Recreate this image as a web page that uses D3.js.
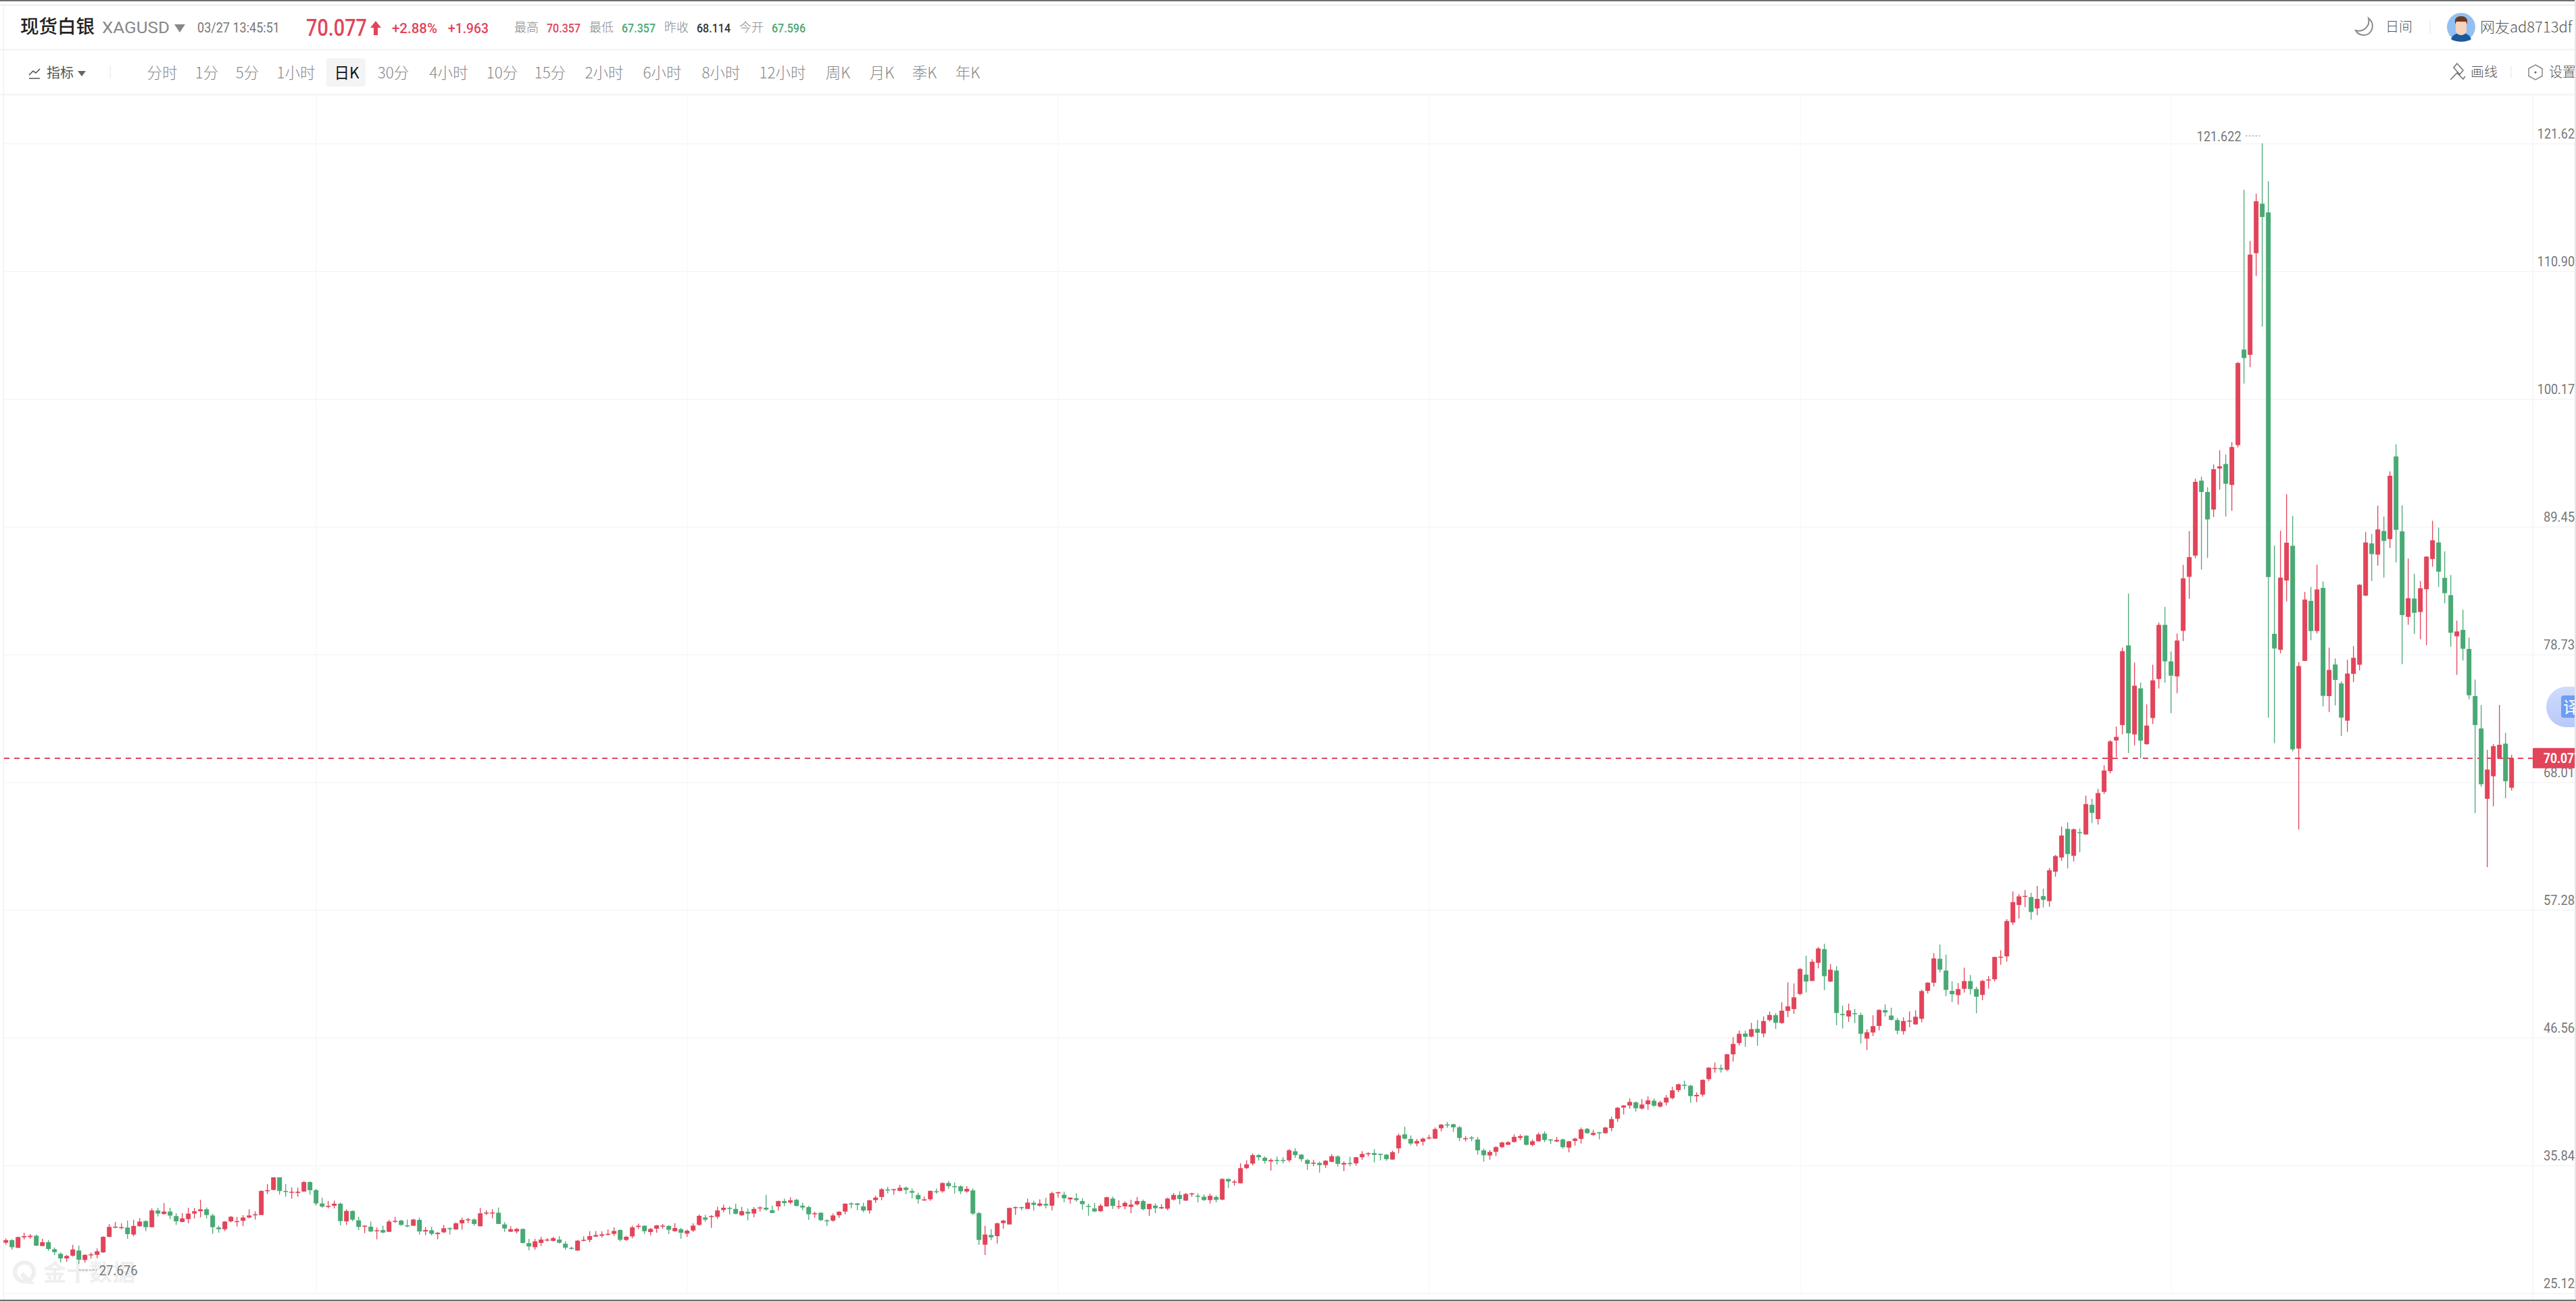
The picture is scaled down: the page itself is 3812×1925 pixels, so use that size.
<!DOCTYPE html>
<html>
<head>
<meta charset="utf-8" />
<style>
	html, body { margin: 0; padding: 0; background: #fff; overflow: hidden; }
	svg { display: block; }
</style>
</head>
<body>
<div id="chart"></div>
<script src="https://cdnjs.cloudflare.com/ajax/libs/d3/7.8.5/d3.min.js"></script>
<script type="text/javascript">

	var opens = [
		29.46,29.67,29.03,29.91,29.93,30.04,29.18,29.50,28.91,28.53,
		28.14,28.37,28.80,28.01,28.42,28.44,28.65,29.95,30.73,30.74,
		30.73,30.14,30.84,31.27,30.76,32.16,31.86,32.07,31.69,31.20,
		31.44,31.90,32.10,32.26,31.74,30.73,30.59,31.25,31.25,31.29,
		31.57,31.82,31.78,33.82,33.88,34.94,33.79,33.71,33.63,33.75,
		34.54,33.86,32.75,32.46,32.56,32.73,31.25,32.12,31.33,30.84,
		30.80,30.42,30.52,30.37,31.25,31.31,30.91,30.88,31.37,30.40,
		30.50,30.18,30.33,30.67,30.57,31.08,31.33,31.40,30.84,31.90,
		31.97,31.97,30.99,30.38,30.40,30.61,29.42,29.08,29.44,29.70,
		29.61,29.72,29.37,29.03,28.80,29.63,29.69,29.97,30.04,30.16,
		30.20,30.52,29.69,29.99,30.78,30.88,30.35,30.63,30.88,30.86,
		30.42,30.59,30.22,30.48,30.95,31.57,31.63,31.63,32.20,32.37,
		32.29,31.76,32.05,31.90,32.33,32.39,32.18,32.50,32.95,32.82,
		33.05,32.56,32.44,31.84,31.97,31.33,31.31,31.76,32.07,32.75,
		32.75,32.50,32.16,33.03,33.29,33.92,33.90,33.80,34.07,33.79,
		33.46,33.07,33.10,33.77,33.77,34.46,34.20,34.18,33.75,33.84,
		31.93,29.29,30.10,30.01,31.10,30.99,32.39,32.44,32.29,32.80,
		32.56,32.71,32.56,33.65,33.48,33.09,33.18,32.95,32.54,32.33,
		32.10,32.50,33.16,32.46,32.50,32.46,32.67,32.95,32.27,32.57,
		32.33,32.31,33.07,33.46,32.99,33.56,33.39,33.31,33.03,33.29,
		33.07,34.80,34.54,34.44,35.71,36.09,36.80,36.58,36.27,36.39,
		36.39,36.37,37.12,36.84,36.39,36.12,36.14,35.97,36.24,36.69,
		36.01,36.14,36.11,36.62,36.92,36.97,36.90,36.84,36.43,37.37,
		38.54,38.16,37.77,37.92,38.20,38.18,39.05,39.37,39.39,39.13,
		38.18,38.28,38.11,37.20,36.77,37.07,37.47,37.67,37.90,38.24,
		38.43,37.65,37.96,38.60,38.11,37.94,38.11,37.43,37.99,38.16,
		39.00,38.49,38.71,38.64,39.07,39.85,40.79,40.96,41.22,40.70,
		41.06,41.36,40.87,41.21,41.58,42.25,42.70,42.62,41.73,41.87,
		43.17,44.10,44.10,43.96,45.25,46.19,46.99,46.74,47.38,46.99,
		48.12,48.53,47.87,48.89,49.04,50.31,51.93,51.40,52.92,54.07,
		51.35,52.27,48.63,48.42,48.70,48.55,46.57,47.08,47.63,48.95,
		48.50,48.12,47.19,48.06,47.76,48.23,50.57,51.25,53.26,52.27,
		50.57,50.21,50.74,51.39,50.72,50.23,51.44,51.54,53.37,53.46,
		56.30,57.77,58.49,58.43,57.48,58.51,58.09,60.56,61.75,64.15,
		61.89,63.87,63.68,66.17,64.97,67.25,68.99,71.56,72.85,79.53,
		72.07,75.93,71.25,73.44,76.71,81.25,78.19,76.93,80.75,85.28,
		87.06,93.34,92.39,90.92,94.36,94.74,92.98,96.32,104.33,103.89,
		112.41,116.56,115.83,80.50,79.16,84.97,87.88,70.88,78.23,83.26,
		80.73,84.35,75.28,77.93,76.34,73.22,77.15,77.91,83.70,88.08,
		87.14,89.12,88.44,95.37,89.09,81.92,83.46,82.33,84.24,86.77,
		88.16,85.19,83.74,80.29,80.83,79.23,75.28,72.57,66.67,68.56,
		70.08,71.29,67.596
	];

	var highs = [
		29.82,29.76,29.97,30.29,30.18,30.14,29.78,29.67,29.06,28.65,
		28.44,29.27,29.21,28.48,28.63,28.97,29.99,31.01,31.20,31.08,
		31.31,31.39,31.52,31.33,32.33,32.39,32.78,32.39,31.93,31.93,
		32.39,32.37,33.05,32.42,31.88,30.88,31.27,31.69,31.63,31.76,
		32.26,32.09,33.84,34.37,34.94,34.94,34.37,34.09,34.07,34.63,
		34.60,33.97,33.22,32.95,32.99,32.82,32.26,32.16,31.63,30.93,
		31.23,30.73,30.89,31.37,31.63,31.39,31.40,31.46,31.56,30.78,
		30.80,30.37,30.95,30.76,31.16,31.56,31.54,31.50,32.37,32.18,
		32.27,32.41,31.18,30.84,30.71,30.65,29.78,29.78,29.95,29.86,
		29.95,30.01,29.59,29.12,29.67,29.99,30.42,30.44,30.42,30.56,
		30.74,30.57,30.04,30.88,31.06,30.91,30.69,30.95,31.03,30.93,
		31.10,30.69,30.56,31.08,31.82,31.80,31.76,32.48,32.65,32.50,
		32.73,32.44,32.33,32.44,32.50,33.46,32.56,32.99,33.16,33.27,
		33.14,32.82,32.54,32.07,32.01,31.44,31.91,32.10,32.76,32.84,
		32.78,32.82,33.05,33.39,34.03,34.14,33.97,34.31,34.16,34.01,
		33.65,33.33,33.84,34.01,34.52,34.63,34.52,34.26,34.20,34.01,
		32.03,30.88,30.59,31.14,31.39,32.41,32.50,32.48,33.16,32.99,
		33.10,33.22,33.73,33.73,33.73,33.27,33.60,33.18,32.73,32.78,
		32.71,33.31,33.33,33.01,32.93,33.05,33.29,33.07,32.73,32.76,
		32.69,33.22,33.63,33.78,33.63,33.65,33.59,33.50,33.56,33.41,
		34.86,34.84,34.73,36.12,36.39,36.94,36.90,36.69,36.52,36.67,
		36.62,37.31,37.37,36.88,36.48,36.41,36.26,36.39,36.88,36.80,
		36.28,36.67,36.63,37.13,37.03,37.30,36.94,36.88,37.18,38.60,
		39.18,38.45,38.16,38.26,38.49,39.11,39.41,39.58,39.43,39.26,
		38.39,38.39,38.32,37.35,37.24,37.54,37.92,37.99,38.54,38.54,
		38.45,38.11,38.69,38.79,38.16,38.33,38.20,37.98,38.26,39.11,
		39.07,38.92,38.75,39.17,40.03,40.83,41.00,41.55,41.30,41.49,
		41.73,41.55,41.36,41.83,42.53,42.79,43.04,42.68,42.06,43.15,
		44.17,44.55,44.38,45.29,46.70,47.23,47.23,47.89,48.12,48.42,
		48.82,48.70,49.61,51.29,51.18,52.48,53.52,53.22,54.24,54.52,
		52.82,52.65,49.33,49.50,49.06,48.74,47.35,48.52,49.02,49.44,
		49.16,48.29,48.35,48.85,48.93,50.67,51.31,53.73,54.45,53.61,
		51.37,51.23,52.52,51.91,50.91,51.48,51.82,53.44,53.98,56.58,
		58.90,58.68,59.02,58.79,59.37,59.13,60.87,61.96,64.34,64.70,
		64.19,64.17,66.93,66.66,67.50,69.48,71.59,72.73,79.34,83.87,
		78.08,76.41,74.59,77.91,81.44,82.76,79.01,80.53,86.28,89.12,
		93.50,93.67,92.78,94.70,95.88,95.53,96.56,103.30,117.71,113.44,
		117.40,121.622,118.44,87.90,89.14,92.20,90.37,78.14,84.02,84.43,
		86.30,84.89,79.34,78.43,76.52,78.32,79.47,84.67,89.03,88.88,
		91.24,90.33,94.11,96.38,91.28,86.80,85.52,84.93,87.01,89.98,
		89.40,87.42,85.43,81.61,82.52,80.18,76.67,74.52,70.77,71.27,
		74.54,72.20,70.357
	];

	var lows = [
		29.29,28.87,29.01,29.72,29.78,29.18,29.16,28.78,28.42,27.80,
		27.86,28.29,27.676,27.78,28.12,28.16,28.61,29.91,30.67,30.59,
		29.78,29.99,30.80,30.42,30.73,31.65,31.82,31.42,30.95,31.16,
		31.08,31.50,31.58,31.50,30.20,30.29,30.44,31.16,30.82,30.84,
		31.50,31.40,31.76,33.54,33.86,33.50,33.31,33.16,33.31,33.71,
		33.48,32.58,32.41,32.33,32.33,30.91,30.95,31.25,30.52,30.27,
		30.35,29.74,30.25,30.35,31.12,30.88,30.74,30.84,30.14,30.08,
		30.06,29.74,30.25,30.14,30.54,30.56,31.10,30.89,30.82,31.78,
		31.50,31.01,30.37,30.35,30.23,29.38,28.82,28.87,29.18,29.57,
		29.57,29.38,28.87,28.87,28.78,29.57,29.50,29.93,29.89,30.06,
		30.03,29.57,29.61,29.82,30.61,30.20,30.08,30.29,30.63,30.18,
		30.38,29.78,29.95,30.37,30.88,31.22,30.71,31.46,32.01,31.82,
		31.84,31.71,31.33,31.59,32.07,32.14,31.93,32.16,32.52,32.69,
		32.50,32.18,31.37,31.56,31.27,30.88,31.22,31.54,31.84,32.33,
		32.18,32.01,31.90,32.78,33.01,33.58,33.48,33.77,33.54,33.16,
		32.75,32.95,32.97,33.56,33.65,33.99,33.58,33.54,33.65,31.78,
		29.27,28.42,29.67,29.38,30.63,30.97,31.80,32.16,32.27,32.14,
		32.48,32.33,32.16,33.24,32.84,32.73,32.88,32.23,31.72,32.01,
		32.03,32.48,32.29,32.27,32.27,31.93,32.57,32.16,31.71,31.93,
		32.29,32.18,32.99,32.67,32.95,33.29,32.84,32.97,32.74,32.84,
		33.01,34.03,34.24,34.42,35.63,35.95,36.35,36.09,35.50,36.01,
		36.11,36.22,36.58,36.26,35.56,35.88,35.33,35.73,36.22,35.84,
		35.46,35.88,35.92,36.41,36.69,36.20,36.35,36.33,36.41,36.97,
		38.11,37.62,37.54,37.60,38.11,38.15,38.79,39.09,38.75,37.99,
		37.96,37.96,36.84,36.26,36.41,36.73,37.39,37.64,37.86,38.05,
		37.60,37.54,37.92,37.88,37.73,37.90,37.33,37.03,37.60,37.77,
		38.60,38.41,38.13,38.60,38.79,39.58,40.21,40.70,40.45,40.62,
		40.60,40.85,40.79,40.96,41.47,42.06,42.32,41.19,41.24,41.70,
		43.00,43.70,43.72,43.83,44.64,45.98,45.87,46.67,45.97,46.68,
		48.00,47.38,47.82,48.37,48.65,50.20,50.44,51.39,52.46,50.63,
		51.31,47.70,47.42,47.97,47.87,46.15,45.61,46.78,47.25,48.42,
		48.08,46.93,46.91,47.51,47.72,47.93,50.35,50.93,52.12,50.12,
		49.63,49.42,50.42,50.27,48.69,49.78,50.76,51.35,52.75,53.03,
		56.09,56.62,57.58,56.54,56.90,57.56,57.62,60.13,61.47,60.83,
		61.41,62.19,63.66,64.64,64.51,67.08,68.80,70.16,72.07,70.51,
		71.16,70.08,71.20,72.94,75.91,76.39,73.85,75.52,79.88,83.44,
		86.84,85.89,86.86,90.29,92.58,90.33,90.81,96.12,101.48,102.86,
		110.49,106.26,73.48,71.34,78.86,83.22,70.64,64.09,78.21,79.97,
		80.53,74.41,73.94,74.50,71.94,72.29,76.45,77.45,83.67,84.93,
		86.21,85.21,87.68,86.49,77.95,81.25,80.49,80.05,79.55,86.12,
		84.43,83.07,79.42,77.06,78.27,75.02,65.48,67.67,60.95,66.04,
		70.06,66.72,67.357
	];

	var closes = [
		29.67,29.08,29.93,30.01,30.04,29.21,29.50,28.93,28.67,28.14,
		28.35,28.89,28.03,28.44,28.48,28.74,29.95,30.78,30.80,30.76,
		30.18,30.86,31.23,30.76,32.16,31.90,32.07,31.73,31.25,31.50,
		31.90,32.09,32.26,31.78,30.76,30.59,31.23,31.63,31.27,31.57,
		31.74,31.84,33.80,33.86,34.94,33.79,33.77,33.73,33.73,34.54,
		33.86,32.75,32.48,32.54,32.73,31.27,32.12,31.39,30.78,30.88,
		30.40,30.50,30.31,31.23,31.29,30.95,30.88,31.40,30.40,30.52,
		30.20,30.29,30.67,30.65,31.08,31.37,31.42,31.03,31.92,31.99,
		31.99,31.03,30.65,30.59,30.61,29.44,29.14,29.57,29.72,29.72,
		29.84,29.46,29.04,28.97,29.63,29.70,30.01,30.10,30.16,30.20,
		30.44,29.70,29.95,30.74,30.88,30.42,30.61,30.91,30.89,30.54,
		30.69,30.29,30.46,30.89,31.71,31.39,31.69,32.16,32.39,32.31,
		31.88,32.10,31.90,32.29,32.41,32.24,31.95,32.95,32.78,33.01,
		32.54,32.41,31.84,31.93,31.35,31.25,31.74,32.05,32.73,32.71,
		32.63,32.16,33.01,33.24,33.94,33.88,33.94,34.07,33.88,33.65,
		33.10,33.09,33.80,33.69,34.46,34.20,34.16,33.77,33.97,31.90,
		29.69,30.14,29.91,31.08,31.31,32.37,32.44,32.41,32.82,32.63,
		32.75,32.58,33.61,33.69,33.18,33.24,33.03,32.69,32.50,32.08,
		32.56,33.27,32.54,32.52,32.80,32.65,32.95,32.27,32.71,32.35,
		32.44,33.16,33.46,33.12,33.54,33.59,33.35,33.03,33.39,33.05,
		34.80,34.59,34.58,35.71,36.03,36.80,36.62,36.31,36.39,36.35,
		36.35,37.20,36.80,36.46,36.07,36.16,35.97,36.33,36.71,36.07,
		36.14,36.11,36.62,36.90,36.96,36.82,36.84,36.46,37.05,38.45,
		38.18,37.77,37.98,38.18,38.28,38.98,39.35,39.34,39.13,38.24,
		38.22,38.24,37.20,36.79,37.07,37.47,37.86,37.88,38.33,38.39,
		37.67,37.96,38.54,38.07,38.07,38.07,37.47,37.96,38.18,38.96,
		38.64,38.66,38.67,39.11,39.81,40.77,40.96,41.26,40.73,41.04,
		41.39,40.94,41.22,41.62,42.23,42.74,42.62,41.75,41.85,43.11,
		44.13,44.11,43.98,45.25,46.12,46.97,46.72,47.36,47.06,48.04,
		48.55,47.89,48.91,49.27,50.03,52.41,51.35,53.01,54.12,51.80,
		52.35,48.72,48.53,48.93,48.67,46.97,47.10,47.61,48.97,48.76,
		48.14,47.23,48.04,48.08,48.40,50.55,51.25,53.29,52.35,50.65,
		50.29,50.72,51.39,50.72,50.08,51.40,51.52,53.41,53.43,56.43,
		58.01,58.49,58.53,57.18,58.28,58.20,60.68,61.87,63.59,62.04,
		64.11,63.81,66.23,65.49,67.15,69.04,71.48,71.86,79.05,72.16,
		76.15,71.55,72.81,76.60,81.25,78.19,76.99,79.94,85.15,86.93,
		93.24,92.39,90.09,94.30,94.54,93.08,96.16,103.20,103.62,112.29,
		116.76,115.44,85.26,79.27,85.21,88.14,70.82,77.80,83.37,80.73,
		84.22,75.30,77.47,76.63,73.48,77.17,78.49,84.61,88.16,87.19,
		89.25,88.29,93.75,89.22,82.07,83.48,82.26,84.32,86.97,88.34,
		85.71,83.91,80.59,80.70,79.25,75.35,72.85,67.89,69.12,71.08,
		71.20,68.15,70.077
	];

	var gridPrices = [121.605, 110.897, 100.189, 89.481, 78.773, 68.065, 57.357, 46.649, 35.941, 25.233];
	var tickLabels = ["121.62", "110.90", "100.17", "89.45", "78.73", "68.01", "57.28", "46.56", "35.84", "25.12"];
	var gridBars = [51, 112, 173, 234, 295, 356];
	var periods = ["分时", "1分", "5分", "1小时", "日K", "30分", "4小时", "10分", "15分", "2小时", "6小时", "8小时", "12小时", "周K", "月K", "季K", "年K"];
	var periodCenters = [240, 306, 366, 438, 513, 582, 664, 743, 814, 894, 980, 1067, 1158, 1240, 1305, 1368, 1432];
	var lastPrice = 70.077, maxPrice = 121.622, minPrice = 27.676, maxBar = 371, minBar = 12;

	var RED = "#e2445a", GREEN = "#49a974", GREY = "#888";
	var NUM = "Roboto, 'Liberation Sans', sans-serif";
	var CJK = "'Noto Sans CJK SC', sans-serif";

	var width = 3812, height = 1925;
	var svg = d3.select("#chart").append("svg").attr("width", width).attr("height", height);

	// bar index and price scales, calibrated on the bars of the picture
	var x = d3.scaleLinear().domain([0, 412]).range([8.7, 3716.7]);
	var y = d3.scaleLinear().domain([121.622, 25.12]).range([212, 1915.3]);

	function text(sel, px, py, str, size, color, opts) {
		opts = opts || {};
		var t = sel.append("text")
			.attr("x", px).attr("y", py)
			.attr("dy", "0.36em")
			.attr("font-family", opts.family || NUM)
			.attr("font-size", size)
			.attr("font-weight", opts.weight || 400)
			.attr("fill", color)
			.attr("text-anchor", opts.anchor || "start")
			.text(str);
		if (opts.w) t.attr("textLength", opts.w).attr("lengthAdjust", "spacingAndGlyphs");
		return t;
	}

	function hline(py, color, w) {
		svg.append("line").attr("x1", 0).attr("x2", width).attr("y1", py).attr("y2", py)
			.attr("stroke", color).attr("stroke-width", w);
	}

	// frame
	svg.append("rect").attr("width", width).attr("height", 2).attr("fill", "#6f6f6f");
	hline(7.5, "#e6e6e6", 1.5);
	hline(73.5, "#eeeeee", 1.5);
	hline(140, "#f6f6f6", 3);
	svg.append("line").attr("x1", 5.5).attr("x2", 5.5).attr("y1", 8).attr("y2", 1923).attr("stroke", "#ececec").attr("stroke-width", 1);

	// header row
	var head = svg.append("g");
	text(head, 30, 39, "现货白银", 27.5, "#222", { family: CJK, weight: 500 });
	text(head, 151, 40, "XAGUSD", 24, "#888", { w: 100 });
	head.append("path").attr("d", "M258 36h16l-8 12z").attr("fill", "#888");
	text(head, 292, 40, "03/27 13:45:51", 21, "#777", { w: 122 });
	text(head, 453, 40, "70.077", 35, RED, { w: 90, weight: 500 });
	head.append("path").attr("d", "M556 31l8 10h-5v11h-6V41h-5z").attr("fill", RED);
	text(head, 580, 41, "+2.88%", 21, RED, { w: 67, weight: 500 });
	text(head, 663, 41, "+1.963", 21, RED, { w: 60, weight: 500 });
	text(head, 761, 41, "最高", 18, "#888", { family: CJK, weight: 300 });
	text(head, 809, 41, "70.357", 19, RED, { w: 50, weight: 500 });
	text(head, 872, 41, "最低", 18, "#888", { family: CJK, weight: 300 });
	text(head, 920, 41, "67.357", 19, GREEN, { w: 50, weight: 500 });
	text(head, 983, 41, "昨收", 18, "#888", { family: CJK, weight: 300 });
	text(head, 1031, 41, "68.114", 19, "#333", { w: 50, weight: 500 });
	text(head, 1094, 41, "今开", 18, "#888", { family: CJK, weight: 300 });
	text(head, 1142, 41, "67.596", 19, GREEN, { w: 50, weight: 500 });

	// header right: theme and user
	head.append("path").attr("d", "M3505 27 C3516 36 3510 52 3498 52 C3492 52 3488 49 3486 45 C3496 48 3508 40 3505 27z")
		.attr("fill", "none").attr("stroke", "#8a8a8a").attr("stroke-width", 2);
	text(head, 3530, 40, "日间", 20, "#555", { family: CJK, weight: 300 });
	head.append("line").attr("x1", 3596).attr("x2", 3596).attr("y1", 30).attr("y2", 50).attr("stroke", "#eee").attr("stroke-width", 1.5);
	var av = head.append("g");
	av.append("circle").attr("cx", 3642).attr("cy", 40).attr("r", 21).attr("fill", "#93bff2");
	av.append("path").attr("d", "M3627 58c2-6 7-9 15-9s13 3 15 9c-8 5-22 5-30 0z").attr("fill", "#1d5a9c");
	av.append("path").attr("d", "M3634 32h16v12c0 5-4 8-8 8s-8-3-8-8z").attr("fill", "#f7d5bc");
	av.append("path").attr("d", "M3633 36v-7c2-4 5-5 9-5s7 1 9 5v7l-2-4h-14z").attr("fill", "#6b3a22");
	text(head, 3670, 40, "网友ad8713df", 22, "#555", { family: CJK, weight: 300 });

	// toolbar row
	var bar = svg.append("g");
	bar.append("path").attr("d", "M43 116h16M43 111l6-6 4 3 6-6").attr("fill", "none").attr("stroke", "#555").attr("stroke-width", 1.6);
	text(bar, 69, 108, "指标", 20, "#555", { family: CJK });
	bar.append("path").attr("d", "M115 105h12l-6 8z").attr("fill", "#666");
	bar.append("line").attr("x1", 163).attr("x2", 163).attr("y1", 97).attr("y2", 116).attr("stroke", "#eee").attr("stroke-width", 1.5);
	bar.append("rect").attr("x", 483).attr("y", 86).attr("width", 58).attr("height", 42).attr("rx", 4).attr("fill", "#f4f4f4");
	periods.forEach(function (p, i) {
		text(bar, periodCenters[i], 108, p, 22.5, p === "日K" ? "#111" : GREY, { family: CJK, anchor: "middle", weight: p === "日K" ? 400 : 300 });
	});
	bar.append("path").attr("d", "M3626 118l10-10 9 9 3-4M3636 94l9 10-5 6-9-10z").attr("fill", "none").attr("stroke", "#777").attr("stroke-width", 1.6);
	text(bar, 3656, 107, "画线", 20, "#555", { family: CJK, weight: 300 });
	bar.append("line").attr("x1", 3716).attr("x2", 3716).attr("y1", 98).attr("y2", 116).attr("stroke", "#eee").attr("stroke-width", 1.5);
	bar.append("path").attr("d", "M3752 96l10 5.500v11l-10 5.500-10-5.500v-11z").attr("fill", "none").attr("stroke", "#888").attr("stroke-width", 1.5);
	bar.append("circle").attr("cx", 3752).attr("cy", 107).attr("r", 1.6).attr("fill", "#666");
	text(bar, 3772, 107, "设置", 20, "#555", { family: CJK, weight: 300 });

	// watermark
	var wm = svg.append("g");
	wm.append("circle").attr("cx", 36).attr("cy", 1882).attr("r", 14).attr("fill", "none").attr("stroke", "#efefef").attr("stroke-width", 6);
	wm.append("path").attr("d", "M34 1882l18 18h-10l-12-12z").attr("fill", "#efefef");
	text(wm, 64, 1883, "金十数据", 34, "#efefef", { family: CJK, weight: 700 });

	// grid from the axes
	var yAxis = d3.axisRight(y).tickValues(gridPrices).tickSize(-3804)
		.tickFormat(function (d, i) { return tickLabels[i]; });
	var yg = svg.append("g").attr("transform", "translate(3810,0)").call(yAxis);
	yg.select(".domain").remove();
	yg.selectAll("line").attr("stroke", "#f3f3f3").attr("stroke-width", 1.3);
	yg.selectAll("text")
		.attr("x", 0).attr("dy", "-0.35em").attr("text-anchor", "end")
		.attr("font-family", NUM).attr("font-size", 21).attr("fill", "#777")
		.attr("textLength", function (d, i) { return tickLabels[i].length * 9.2; })
		.attr("lengthAdjust", "spacingAndGlyphs");

	var xAxis = d3.axisBottom(x).tickValues(gridBars).tickSize(-1773).tickFormat("");
	var xg = svg.append("g").attr("transform", "translate(0,1913.3)").call(xAxis);
	xg.select(".domain").remove();
	xg.selectAll("line").attr("stroke", "#f5f5f5").attr("stroke-width", 1);

	svg.append("line").attr("x1", 3748).attr("x2", 3748).attr("y1", 140).attr("y2", 1923)
		.attr("stroke", "#f3f3f3").attr("stroke-width", 1.3);

	// last price line
	svg.append("line")
		.attr("x1", 6).attr("x2", 3748)
		.attr("y1", y(lastPrice)).attr("y2", y(lastPrice))
		.attr("stroke", RED).attr("stroke-width", 2).attr("stroke-dasharray", "8 7")
		.attr("shape-rendering", "crispEdges");

	// candles
	var barW = 7;
	var candles = svg.append("g").selectAll("g").data(d3.range(opens.length)).join("g")
		.attr("fill", function (i) { return closes[i] >= opens[i] ? RED : GREEN; })
		.attr("stroke", function (i) { return closes[i] >= opens[i] ? RED : GREEN; });
	candles.append("line")
		.attr("x1", function (i) { return x(i); })
		.attr("x2", function (i) { return x(i); })
		.attr("y1", function (i) { return y(highs[i]); })
		.attr("y2", function (i) { return y(lows[i]); })
		.attr("stroke-width", 1.3);
	candles.append("rect")
		.attr("stroke", "none")
		.attr("x", function (i) { return x(i) - barW / 2; })
		.attr("width", barW)
		.attr("y", function (i) { return y(Math.max(opens[i], closes[i])); })
		.attr("height", function (i) { return Math.max(1.5, Math.abs(y(opens[i]) - y(closes[i]))); });

	// high and low marks
	var mk = svg.append("g");
	text(mk, x(maxBar) - 97, y(maxPrice) - 11, "121.622", 21, "#777", { w: 66 });
	mk.append("line").attr("x1", x(maxBar) - 25).attr("x2", x(maxBar) - 3).attr("y1", y(maxPrice) - 11).attr("y2", y(maxPrice) - 11)
		.attr("stroke", "#999").attr("stroke-width", 1.2).attr("stroke-dasharray", "3 2");
	text(mk, x(minBar) + 30, y(minPrice) + 9, "27.676", 21, "#777", { w: 57 });
	mk.append("line").attr("x1", x(minBar)).attr("x2", x(minBar) + 27).attr("y1", y(minPrice) + 9).attr("y2", y(minPrice) + 9)
		.attr("stroke", "#999").attr("stroke-width", 1.2).attr("stroke-dasharray", "3 2");

	// last price tag
	svg.append("rect").attr("x", 3748).attr("y", y(lastPrice) - 15).attr("width", 64).attr("height", 30).attr("rx", 1.5).attr("fill", RED);
	text(svg, 3764, y(lastPrice), "70.077", 21, "#fff", { w: 55, weight: 700 });

	// translate button
	var defs = svg.append("defs");
	var grad = defs.append("linearGradient").attr("id", "tr").attr("x1", 0).attr("x2", 0).attr("y1", 0).attr("y2", 1);
	grad.append("stop").attr("offset", "0%").attr("stop-color", "#cfdcfb");
	grad.append("stop").attr("offset", "100%").attr("stop-color", "#b8c8fa");
	svg.append("path").attr("d", "M3812 1016h-14a30 30 0 0 0 0 60h14z").attr("fill", "url(#tr)");
	svg.append("rect").attr("x", 3790).attr("y", 1029).attr("width", 30).attr("height", 33).attr("rx", 4).attr("fill", "#6f9df3");
	text(svg, 3793, 1046, "译", 24, "#fff", { family: CJK });

	// page edges drawn last
	svg.append("rect").attr("x", 3810).attr("y", 0).attr("width", 2).attr("height", height).attr("fill", "#e6e6e6");
	svg.append("rect").attr("y", 1923).attr("width", width).attr("height", 2).attr("fill", "#6f6f6f");

</script>
</body>
</html>
